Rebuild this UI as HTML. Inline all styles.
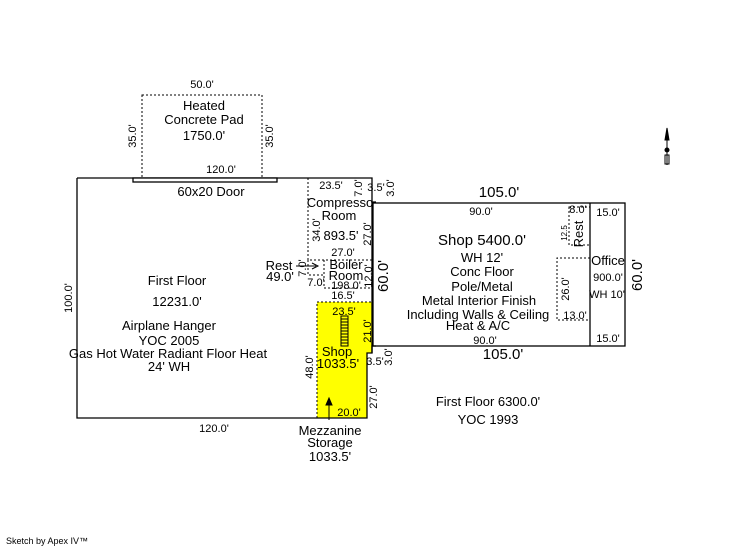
<!DOCTYPE html>
<html><head><style>
body{margin:0;background:#fff;}
svg{display:block;font-family:"Liberation Sans",Arial,sans-serif;}
.s{font-size:13px;}
.d{font-size:11px;}
.b{font-size:15px;}
</style></head><body>
<svg width="746" height="547" viewBox="0 0 746 547">
<polygon points="317,302 372,302 372,353 367,353 367,418 317,418" fill="#ffff00"/>
<g fill="none" stroke="#000" stroke-width="1" stroke-dasharray="2,2">
<rect x="142" y="95" width="120" height="83"/>
<polyline points="308,178 308,260 372,260"/>
<polyline points="308,260 308,275 324,275"/>
<polyline points="324,260 324,288 372,288"/>
<polyline points="317,418 317,302 372,302"/>
<rect x="569" y="207" width="21" height="38"/>
<polyline points="590,258 557,258 557,320 590,320"/>
</g>
<g fill="none" stroke="#000" stroke-width="1.3">
<path d="M77,178 H372 V202 H376 M376,346 H372 V353 H367 V418 H77 V178"/>
<line x1="372" y1="202" x2="372" y2="353"/>
<rect x="373" y="203" width="252" height="143"/>
<line x1="590" y1="203" x2="590" y2="346"/>
<rect x="133" y="178" width="144" height="4" fill="#fff"/>
</g>
<g stroke="#000" fill="none" stroke-width="1">
<rect x="341" y="316" width="7" height="30"/>
<path d="M341,319h7M341,322h7M341,325h7M341,328h7M341,331h7M341,334h7M341,337h7M341,340h7M341,343h7"/>
<line x1="329" y1="402" x2="329" y2="420"/>
<path d="M326,405 L329,398 L332,405 Z" fill="#000"/>
<line x1="296" y1="266" x2="316" y2="266"/>
<path d="M312,263 L318,266 L312,269" />
</g>
<g stroke="#000" fill="#000">
<line x1="667" y1="128" x2="667" y2="165"/>
<path d="M665,140 L667,128 L669,140 Z"/>
<circle cx="667" cy="150" r="2"/>
<rect x="665" y="155" width="4" height="9" fill="none"/>
</g>
<g text-anchor="middle">
<text class="d" x="202" y="88">50.0'</text>
<text class="s" x="204" y="110">Heated</text>
<text class="s" x="204" y="124">Concrete Pad</text>
<text class="s" x="204" y="140">1750.0'</text>
<text class="d" x="221" y="173">120.0'</text>
<text class="d" transform="translate(136,136) rotate(-90)">35.0'</text>
<text class="d" transform="translate(273,136) rotate(-90)">35.0'</text>
<text class="s" x="211" y="196">60x20 Door</text>
<text class="s" x="177" y="285">First Floor</text>
<text class="s" x="177" y="306">12231.0'</text>
<text class="s" x="169" y="330">Airplane Hanger</text>
<text class="s" x="169" y="345">YOC 2005</text>
<text class="s" x="168" y="358">Gas Hot Water Radiant Floor Heat</text>
<text class="s" x="169" y="371">24' WH</text>
<text class="d" transform="translate(72,298) rotate(-90)">100.0'</text>
<text class="d" x="214" y="432">120.0'</text>
<text class="d" x="331" y="189">23.5'</text>
<text class="d" transform="translate(362,188) rotate(-90)">7.0'</text>
<text class="d" x="376" y="191">3.5'</text>
<text class="d" transform="translate(394,188) rotate(-90)">3.0'</text>
<text class="s" x="340" y="207">Compresso</text>
<text class="s" x="339" y="220">Room</text>
<text class="s" x="341" y="240">893.5'</text>
<text class="d" transform="translate(320,230) rotate(-90)">34.0'</text>
<text class="d" transform="translate(371,234) rotate(-90)">27.0'</text>
<text class="d" x="343" y="256">27.0'</text>
<text class="s" x="279" y="270">Rest</text>
<text class="s" x="280" y="281">49.0'</text>
<text class="d" transform="translate(306,268) rotate(-90)">7.0'</text>
<text class="d" x="316" y="286">7.0'</text>
<text class="s" x="346" y="269">Boiler</text>
<text class="s" x="346" y="280">Room</text>
<text class="d" x="346" y="289">198.0'</text>
<text class="d" transform="translate(372,276) rotate(-90)">12.0'</text>
<text class="b" transform="translate(388,276) rotate(-90)">60.0'</text>
<text class="d" x="343" y="299">16.5'</text>
<text class="d" x="344" y="315">23.5'</text>
<text class="d" transform="translate(371,331) rotate(-90)">21.0'</text>
<text class="s" x="337" y="356">Shop</text>
<text class="s" x="338" y="368">1033.5'</text>
<text class="d" transform="translate(313,367) rotate(-90)">48.0'</text>
<text class="d" x="375" y="365">3.5'</text>
<text class="d" transform="translate(392,357) rotate(-90)">3.0'</text>
<text class="d" transform="translate(377,397) rotate(-90)">27.0'</text>
<text class="d" x="349" y="416">20.0'</text>
<text class="s" x="330" y="435">Mezzanine</text>
<text class="s" x="330" y="447">Storage</text>
<text class="s" x="330" y="461">1033.5'</text>
<text class="b" x="499" y="197">105.0'</text>
<text class="d" x="481" y="215">90.0'</text>
<text class="b" x="482" y="245">Shop  5400.0'</text>
<text class="s" x="482" y="262">WH 12'</text>
<text class="s" x="482" y="276">Conc Floor</text>
<text class="s" x="482" y="291">Pole/Metal</text>
<text class="s" x="479" y="305">Metal Interior Finish</text>
<text class="s" x="478" y="319">Including Walls &amp; Ceiling</text>
<text class="s" x="478" y="330">Heat &amp; A/C</text>
<text class="d" x="485" y="344">90.0'</text>
<text class="b" x="503" y="359">105.0'</text>
<text class="d" x="578" y="213">8.0'</text>
<text class="d" transform="translate(567,233) rotate(-90)" style="font-size:8px">12.5</text>
<text class="s" transform="translate(583,234) rotate(-90)">Rest</text>
<text class="d" x="608" y="216">15.0'</text>
<text class="s" x="608" y="265">Office</text>
<text class="d" x="608" y="281">900.0'</text>
<text class="d" x="607" y="298">WH 10'</text>
<text class="d" transform="translate(569,289) rotate(-90)">26.0'</text>
<text class="d" x="575" y="319">13.0'</text>
<text class="d" x="608" y="342">15.0'</text>
<text class="b" transform="translate(642,275) rotate(-90)">60.0'</text>
<text class="s" x="488" y="406">First Floor  6300.0'</text>
<text class="s" x="488" y="424">YOC 1993</text>
</g>
<text x="6" y="544" style="font-size:9px">Sketch by Apex IV™</text>
</svg>
</body></html>
